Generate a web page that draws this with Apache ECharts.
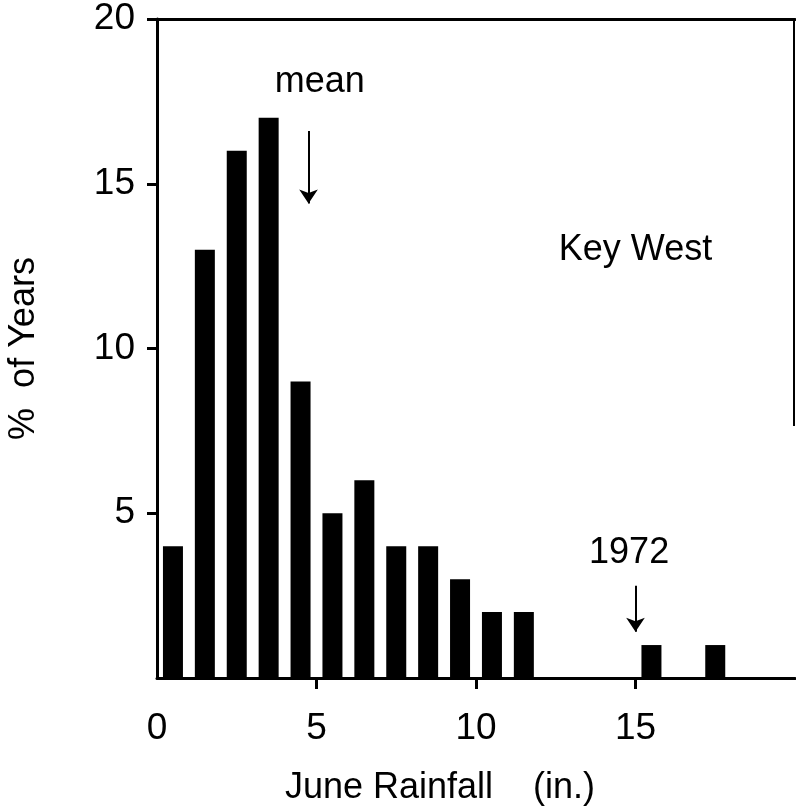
<!DOCTYPE html>
<html>
<head>
<meta charset="utf-8">
<script src="https://cdn.jsdelivr.net/npm/echarts@6/dist/echarts.min.js"></script>
<style>
html,body{margin:0;padding:0;background:#fff;}
#chart{width:796px;height:812px;}
</style>
</head>
<body>
<div id="chart"></div>
<script>
// bin centers (inches) and % of years
var binCenters = [0.5,1.5,2.5,3.5,4.5,5.5,6.5,7.5,8.5,9.5,10.5,11.5,12.5,13.5,14.5,15.5,16.5,17.5];
var pctYears   = [4,13,16,17,9,5,6,4,4,3,2,2,0,0,0,1,0,1];
var xTicks = [0,5,10,15];
var yTicks = [5,10,15,20];
// annotations: [x, yFrom, yTo, label, labelX, labelY]
var meanArrow = [4.75, 16.6, 14.4, 'mean', 5.1, 18.1];
var yearArrow = [15.0, 2.8, 1.4, '1972', 14.8, 3.8];
var siteLabel = [15.0, 13.0, 'Key West'];

var font = 'Liberation Sans, Arial, Helvetica, sans-serif';
var myChart = echarts.init(document.getElementById('chart'));

var barData = [];
for (var i = 0; i < binCenters.length; i++) {
	barData.push([binCenters[i], pctYears[i]]);
}

function arrow(a){
	return [{coord:[a[0], a[1]]}, {coord:[a[0], a[2]]}];
}

var option = {
	animation: false,
	grid: {left: 157, top: 19, right: 1, bottom: 134, outerBoundsMode: 'none', containLabel: false},
	xAxis: [{
		type: 'value',
		min: 0, max: 20, interval: 5,
		splitLine: {show: false},
		axisLine: {lineStyle: {color: '#000', width: 3}},
		axisTick: {length: 11, customValues: xTicks.slice(1), lineStyle: {color: '#000', width: 3}},
		axisLabel: {
			margin: 32, color: '#000', fontFamily: font, fontSize: 37,
			customValues: xTicks
		},
		name: 'June Rainfall    (in.)',
		nameLocation: 'middle',
		nameGap: 92,
		nameTextStyle: {color: '#000', fontFamily: font, fontSize: 36, padding: [0, 72, 0, 0]}
	}, {
		type: 'value', position: 'top',
		min: 0, max: 20,
		axisLine: {show: true, lineStyle: {color: '#000', width: 3}},
		axisTick: {show: false}, axisLabel: {show: false}, splitLine: {show: false}
	}],
	yAxis: {
		type: 'value',
		min: 0, max: 20, interval: 5,
		splitLine: {show: false},
		axisLine: {show: true, lineStyle: {color: '#000', width: 3}},
		axisTick: {show: true, length: 10, customValues: yTicks, lineStyle: {color: '#000', width: 3}},
		axisLabel: {
			margin: 22, color: '#000', fontFamily: font, fontSize: 37,
			customValues: yTicks
		},
		name: '%  of Years',
		nameLocation: 'middle',
		nameRotate: 90,
		nameGap: 115,
		nameTextStyle: {color: '#000', fontFamily: font, fontSize: 36}
	},
	series: [{
		type: 'bar',
		data: barData,
		barWidth: 20,
		itemStyle: {color: '#000'},
		markLine: {
			silent: true,
			symbol: ['none', 'arrow'],
			symbolSize: 14,
			label: {show: false},
			lineStyle: {color: '#000', width: 2, type: 'solid'},
			data: [arrow(meanArrow), arrow(yearArrow)]
		},
		markPoint: {
			silent: true,
			symbol: 'circle',
			symbolSize: 0,
			label: {show: true, color: '#000', fontFamily: font, fontSize: 36, position: 'inside'},
			data: [
				{coord: [meanArrow[4], meanArrow[5]], value: meanArrow[3]},
				{coord: [yearArrow[4], yearArrow[5]], value: yearArrow[3]},
				{coord: [siteLabel[0], siteLabel[1]], value: siteLabel[2]}
			]
		}
	}],
	graphic: [{
		type: 'line',
		shape: {x1: 794, y1: 19, x2: 794, y2: 426},
		style: {stroke: '#000', lineWidth: 2}
	}]
};

myChart.setOption(option);
</script>
</body>
</html>
